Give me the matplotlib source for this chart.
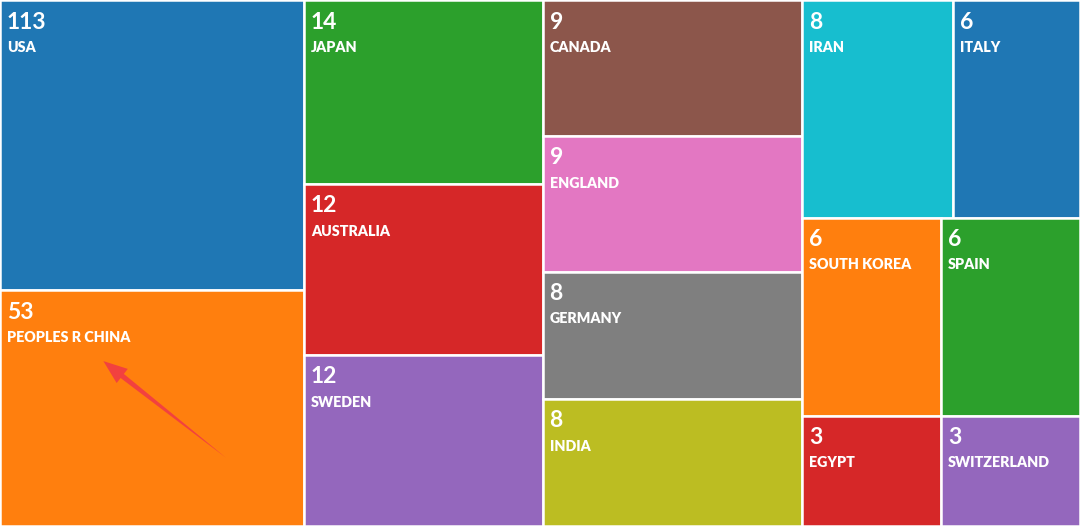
import numpy as np
import matplotlib
matplotlib.use("Agg")
import matplotlib.pyplot as plt
from matplotlib.patches import Rectangle, Polygon

# ---- data ----
countries = ["USA", "PEOPLES R CHINA", "JAPAN", "AUSTRALIA", "SWEDEN",
             "CANADA", "ENGLAND", "GERMANY", "INDIA", "IRAN", "ITALY",
             "SOUTH KOREA", "SPAIN", "EGYPT", "SWITZERLAND"]
counts = [113, 53, 14, 12, 12, 9, 9, 8, 8, 8, 6, 6, 6, 3, 3]
# nesting of the tiles (indices into the lists above)
groups = [[0, 1], [2, 3, 4], [5, 6, 7, 8], [[9, 10], [[11, 13], [12, 14]]]]

W, H = 1080, 526
weights = np.log(np.array(counts, dtype=float)) ** 1.2


def node_weight(node):
    if isinstance(node, int):
        return weights[node]
    return sum(node_weight(c) for c in node)


def layout(node, x, y, w, h, horizontal, out):
    if isinstance(node, int):
        out[node] = (x, y, w, h)
        return
    total = node_weight(node)
    pos = x if horizontal else y
    for c in node:
        frac = node_weight(c) / total
        if horizontal:
            layout(c, pos, y, w * frac, h, not horizontal, out)
            pos += w * frac
        else:
            layout(c, x, pos, w, h * frac, not horizontal, out)
            pos += h * frac


rects = {}
layout(groups, 0, 0, W, H, True, rects)

palette = plt.get_cmap("tab10").colors

fig = plt.figure(figsize=(10.8, 5.26), dpi=100)
ax = fig.add_axes([0, 0, 1, 1])
ax.set_xlim(0, W)
ax.set_ylim(H, 0)
ax.axis("off")

fam = ["Lato", "DejaVu Sans"]
for i, name in enumerate(countries):
    x, y, w, h = rects[i]
    ax.add_patch(Rectangle((x, y), w, h, facecolor=palette[i % 10],
                           edgecolor="white", linewidth=1.8))
    ax.annotate(str(counts[i]), xy=(x, y), xytext=(5.0, -8.3),
                textcoords="offset points", ha="left", va="top",
                fontsize=16.5, fontweight="bold", color="white",
                family=fam)
    ax.annotate(name, xy=(x, y), xytext=(5.0, -29.3),
                textcoords="offset points", ha="left", va="top",
                fontsize=10.3, fontweight="heavy", color="white",
                family=fam)

# red annotation arrow inside the China tile
cx, cy, cw, ch = rects[1]
tail = np.array([cx + 0.743 * cw, cy + 0.71 * ch])
tip = np.array([cx + 0.34 * cw, cy + 0.30 * ch])
d = tip - tail
L = np.hypot(*d)
u = d / L
n = np.array([-u[1], u[0]])
head_len, head_w, shaft_w = 24, 9, 2.6
base = tip - u * head_len
poly = [tail,
        base + n * shaft_w, base + n * head_w, tip,
        base - n * head_w, base - n * shaft_w]
ax.add_patch(Polygon(poly, closed=True, facecolor="#f2413f",
                     edgecolor="none"))

fig.savefig("out.png", dpi=100)
